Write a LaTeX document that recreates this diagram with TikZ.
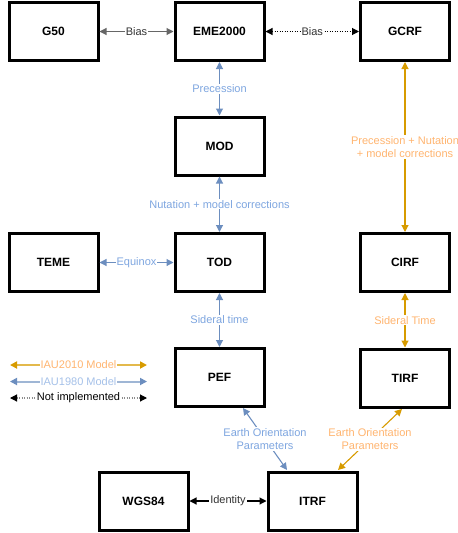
\documentclass[tikz,border=0pt]{standalone}
\usepackage{fontspec}
\setmainfont{Liberation Sans}
\usetikzlibrary{arrows.meta}
\definecolor{blueA}{HTML}{6C8EBF}
\definecolor{blueT}{HTML}{7EA6E0}
\definecolor{orA}{HTML}{D79B00}
\definecolor{orT}{HTML}{FFB570}
\definecolor{grayA}{HTML}{666666}
\begin{document}
\begin{tikzpicture}[x=1pt,y=-1pt,
  frame/.style={draw=black,line width=3pt,minimum width=89pt,minimum height=58pt,inner sep=0pt,font=\fontsize{12}{14}\selectfont\bfseries,fill=white},
  lbl/.style={fill=white,inner sep=1pt,font=\fontsize{11}{13}\selectfont,align=center},
  conn/.style={line width=1.1pt},
  tipc/.style={conn,{Triangle[length=7pt,width=7pt,color=#1]}-{Triangle[length=7pt,width=7pt,color=#1]}},
  bluec/.style={tipc=blueA,draw=blueA},
  orc/.style={tipc=orA,draw=orA},
  grayc/.style={tipc=grayA,draw=grayA},
  blackc/.style={tipc=black,draw=black},
  dotline/.style={dash pattern=on 1pt off 1.5pt}
]
\useasboundingbox (0,0) rectangle (458,533);
\node[frame] (g50) at (53.5,31.5) {G50};
\node[frame] (eme) at (219.5,31.5) {EME2000};
\node[frame] (gcrf) at (405,31.5) {GCRF};
\node[frame] (mod) at (219.5,146) {MOD};
\node[frame] (teme) at (53.5,262.5) {TEME};
\node[frame] (tod) at (219.5,262.5) {TOD};
\node[frame] (cirf) at (405,262.5) {CIRF};
\node[frame] (pef) at (219.5,377.5) {PEF};
\node[frame] (tirf) at (405,378) {TIRF};
\node[frame] (wgs) at (143.5,501) {WGS84};
\node[frame] (itrf) at (312.5,501) {ITRF};

\draw[grayc] (g50) -- node[lbl,text=black!80] {Bias} (eme);
\draw[blackc,dotline] (eme) -- node[lbl,text=black!80] {Bias} (gcrf);
\draw[bluec] (eme) -- node[lbl,text=blueT] {Precession} (mod);
\draw[bluec] (mod) -- node[lbl,text=blueT] {Nutation + model corrections} (tod);
\draw[bluec] (teme) -- node[lbl,text=blueT] {Equinox} (tod);
\draw[bluec] (tod) -- node[lbl,text=blueT] {Sideral time} (pef);
\draw[orc] (gcrf) -- node[lbl,text=orT] {Precession + Nutation\\+ model corrections} (cirf);
\draw[orc] (cirf) -- node[lbl,text=orT] {Sideral Time} (tirf);
\coordinate (pefb) at (243,408);
\coordinate (itrfa) at (287,470);
\coordinate (tirfb) at (402,409);
\coordinate (itrfb) at (338,470);
\draw[bluec] (pefb) -- node[lbl,text=blueT] {Earth Orientation\\Parameters} (itrfa);
\draw[orc] (tirfb) -- node[lbl,text=orT] {Earth Orientation\\Parameters} (itrfb);
\draw[blackc] (wgs) -- node[lbl,text=black!80] {Identity} (itrf);

% legend
\coordinate (l1a) at (10,365); \coordinate (l1b) at (147,365);
\coordinate (l2a) at (10,381.5); \coordinate (l2b) at (147,381.5);
\coordinate (l3a) at (10,398); \coordinate (l3b) at (147,398);
\draw[orc,line width=2pt,draw=orA!70] (l1a) -- node[lbl,text=orT] {IAU2010 Model} (l1b);
\draw[bluec,line width=2pt,draw=blueA!65] (l2a) -- node[lbl,text=blueT!70] {IAU1980 Model} (l2b);
\draw[blackc,draw=black!45,dotline] (l3a) -- node[lbl,text=black] {Not implemented} (l3b);
\end{tikzpicture}
\end{document}
